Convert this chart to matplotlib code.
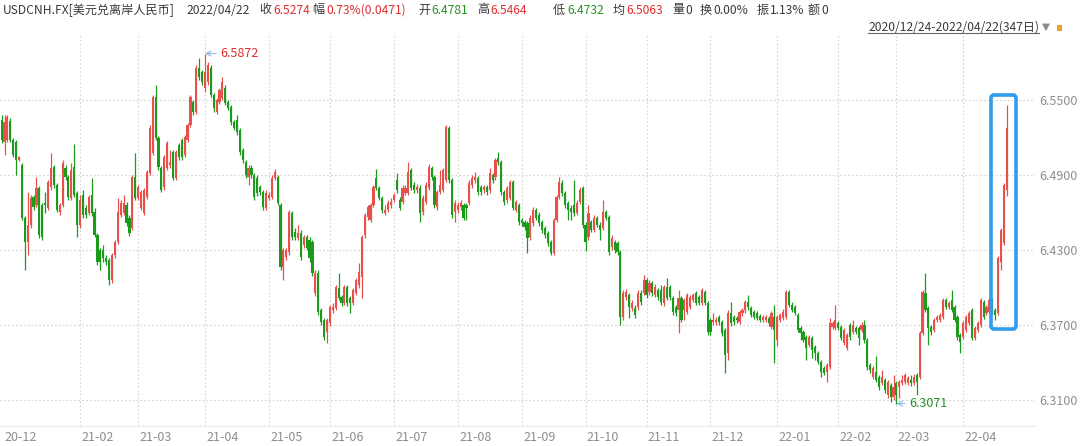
import matplotlib
matplotlib.use('Agg')
import matplotlib.pyplot as plt
import numpy as np
import pandas as pd
from matplotlib.patches import FancyBboxPatch, Rectangle
from matplotlib.transforms import IdentityTransform
from matplotlib.lines import Line2D

plt.rcParams['font.family'] = ['Noto Sans CJK SC', 'DejaVu Sans']

# ---------------- data ----------------
dates = pd.bdate_range('2020-12-24', '2022-04-22')   # 347 trading days

opens = [
6.534, 6.5164, 6.518, 6.5332, 6.518, 6.5164, 6.502, 6.498, 6.4556, 6.4364,
6.45, 6.4724, 6.466, 6.4796, 6.466, 6.4676, 6.4636, 6.4804, 6.4964, 6.482,
6.4604, 6.466, 6.4956, 6.4884, 6.4716, 6.4964, 6.4756, 6.45, 6.474, 6.4636,
6.4596, 6.474, 6.4604, 6.442, 6.43, 6.43, 6.4236, 6.422, 6.406, 6.426,
6.4364, 6.458, 6.4596, 6.466, 6.4556, 6.4476, 6.4884, 6.4716, 6.4636, 6.4596,
6.4724, 6.4916, 6.5076, 6.5524, 6.5196, 6.4956, 6.4804, 6.4956, 6.498, 6.5084,
6.4876, 6.514, 6.518, 6.506, 6.518, 6.53, 6.5484, 6.5404, 6.5756, 6.5724,
6.5596, 6.5644, 6.5756, 6.554, 6.5404, 6.5484, 6.5516, 6.5596, 6.5484, 6.5444,
6.5324, 6.534, 6.526, 6.51, 6.5004, 6.4884, 6.4956, 6.49, 6.4876, 6.4804,
6.4764, 6.4636, 6.4716, 6.4724, 6.4876, 6.4884, 6.466, 6.4164, 6.4244, 6.4284,
6.4596, 6.4444, 6.4396, 6.4436, 6.434, 6.4404, 6.438, 6.4364, 6.3956, 6.4116,
6.382, 6.374, 6.3644, 6.3716, 6.382, 6.3836, 6.3996, 6.3924, 6.3876, 6.4004,
6.3916, 6.3876, 6.3956, 6.402, 6.4084, 6.442, 6.4564, 6.454, 6.466, 6.4876,
6.4796, 6.4716, 6.4596, 6.462, 6.466, 6.47, 6.486, 6.47, 6.4684, 6.4756,
6.4756, 6.494, 6.482, 6.478, 6.4796, 6.4604, 6.4684, 6.4796, 6.4956, 6.4884,
6.4644, 6.4764, 6.478, 6.486, 6.5276, 6.486, 6.4604, 6.462, 6.4644, 6.466,
6.466, 6.4676, 6.482, 6.486, 6.4876, 6.4804, 6.478, 6.4804, 6.478, 6.49,
6.4884, 6.5036, 6.5004, 6.4764, 6.47, 6.4716, 6.4844, 6.462, 6.466, 6.454,
6.4524, 6.4516, 6.4404, 6.4516, 6.462, 6.458, 6.4524, 6.4476, 6.4436, 6.4364,
6.4276, 6.454, 6.4724, 6.4836, 6.4756, 6.4676, 6.4636, 6.466, 6.4596, 6.4684,
6.4796, 6.45, 6.4404, 6.4524, 6.446, 6.4556, 6.45, 6.4476, 6.4604, 6.4564,
6.4324, 6.4364, 6.4356, 6.4284, 6.3764, 6.3924, 6.394, 6.3836, 6.3836, 6.3844,
6.3956, 6.3956, 6.406, 6.3964, 6.4036, 6.394, 6.398, 6.398, 6.3876, 6.4004,
6.4004, 6.3916, 6.3844, 6.382, 6.3916, 6.382, 6.3804, 6.3844, 6.39, 6.3956,
6.3924, 6.3876, 6.3964, 6.3876, 6.374, 6.3724, 6.3724, 6.3764, 6.3724, 6.366,
6.3476, 6.3796, 6.3764, 6.3756, 6.3724, 6.3796, 6.382, 6.3884, 6.3836, 6.3804,
6.3796, 6.3772, 6.374, 6.374, 6.3756, 6.3684, 6.3764, 6.358, 6.374, 6.3756,
6.3764, 6.3964, 6.386, 6.3844, 6.378, 6.3676, 6.3644, 6.3604, 6.354, 6.3596,
6.3524, 6.3476, 6.3404, 6.3356, 6.3324, 6.3364, 6.3684, 6.3676, 6.3716, 6.3684,
6.3556, 6.3516, 6.37, 6.3644, 6.3676, 6.3676, 6.366, 6.37, 6.358, 6.338,
6.3284, 6.3324, 6.3284, 6.3236, 6.326, 6.314, 6.322, 6.3124, 6.3236, 6.3204,
6.3236, 6.3244, 6.3236, 6.326, 6.3236, 6.33, 6.3284, 6.3636, 6.3956, 6.3836,
6.3684, 6.366, 6.374, 6.374, 6.3764, 6.39, 6.3844, 6.39, 6.3844, 6.3764,
6.362, 6.3604, 6.366, 6.3716, 6.382, 6.3596, 6.366, 6.37, 6.3884, 6.3796,
6.3804, 6.39, 6.382, 6.3796, 6.4204, 6.4356, 6.4781]

highs = [
6.538, 6.538, 6.538, 6.5356, 6.5196, 6.518, 6.5052, 6.4996, 6.4572, 6.4764,
6.474, 6.474, 6.4884, 6.4812, 6.4676, 6.4764, 6.486, 6.5076, 6.498, 6.4836,
6.4676, 6.502, 6.498, 6.49, 6.4996, 6.5148, 6.4772, 6.474, 6.478, 6.466,
6.474, 6.4876, 6.4636, 6.4436, 6.4316, 6.434, 6.426, 6.4236, 6.4276, 6.438,
6.4716, 6.47, 6.474, 6.4684, 6.458, 6.49, 6.5076, 6.482, 6.478, 6.4796,
6.494, 6.53, 6.554, 6.562, 6.5212, 6.4972, 6.506, 6.5172, 6.51, 6.51,
6.51, 6.5156, 6.5196, 6.522, 6.5316, 6.554, 6.55, 6.578, 6.5836, 6.574,
6.5872, 6.5804, 6.578, 6.5556, 6.5516, 6.5596, 6.5684, 6.562, 6.55, 6.546,
6.534, 6.538, 6.5276, 6.5116, 6.502, 6.498, 6.498, 6.4916, 6.49, 6.482,
6.478, 6.478, 6.4764, 6.49, 6.4948, 6.49, 6.4676, 6.4316, 6.4316, 6.462,
6.4612, 6.4476, 6.45, 6.446, 6.442, 6.442, 6.4404, 6.438, 6.414, 6.414,
6.3836, 6.3756, 6.3756, 6.386, 6.3876, 6.402, 6.4116, 6.394, 6.402, 6.402,
6.3932, 6.3996, 6.4076, 6.4196, 6.442, 6.4596, 6.466, 6.4676, 6.482, 6.4948,
6.4812, 6.4732, 6.466, 6.47, 6.4716, 6.4756, 6.4916, 6.4724, 6.482, 6.482,
6.5004, 6.4956, 6.4844, 6.4828, 6.482, 6.474, 6.4844, 6.4988, 6.4972, 6.49,
6.478, 6.494, 6.4956, 6.53, 6.5292, 6.4876, 6.47, 6.4684, 6.47, 6.4676,
6.4676, 6.486, 6.49, 6.4924, 6.4892, 6.482, 6.482, 6.482, 6.4956, 6.4916,
6.5036, 6.5084, 6.502, 6.478, 6.4812, 6.486, 6.486, 6.47, 6.4676, 6.4556,
6.454, 6.4532, 6.458, 6.4644, 6.4636, 6.4604, 6.454, 6.4492, 6.4452, 6.438,
6.4556, 6.474, 6.4884, 6.486, 6.4772, 6.4692, 6.466, 6.486, 6.47, 6.4804,
6.4812, 6.4524, 6.466, 6.454, 6.458, 6.4572, 6.4524, 6.47, 6.462, 6.458,
6.442, 6.438, 6.4372, 6.43, 6.398, 6.3988, 6.3956, 6.39, 6.386, 6.398,
6.398, 6.41, 6.4076, 6.406, 6.4052, 6.4028, 6.3996, 6.402, 6.402, 6.4076,
6.402, 6.3932, 6.386, 6.398, 6.3932, 6.3916, 6.3956, 6.394, 6.3956, 6.3972,
6.394, 6.3996, 6.398, 6.3892, 6.3756, 6.3796, 6.3764, 6.378, 6.374, 6.3676,
6.382, 6.3884, 6.378, 6.3772, 6.382, 6.3836, 6.39, 6.394, 6.3852, 6.382,
6.3812, 6.3788, 6.378, 6.378, 6.3772, 6.3812, 6.386, 6.378, 6.3796, 6.3828,
6.398, 6.398, 6.3884, 6.386, 6.3796, 6.3692, 6.366, 6.362, 6.362, 6.3612,
6.354, 6.3492, 6.342, 6.3372, 6.3396, 6.3756, 6.3732, 6.386, 6.3732, 6.37,
6.3676, 6.3636, 6.3716, 6.374, 6.3692, 6.3692, 6.3724, 6.374, 6.3596, 6.3396,
6.3372, 6.3452, 6.33, 6.334, 6.3276, 6.326, 6.3236, 6.33, 6.3252, 6.326,
6.33, 6.3316, 6.3292, 6.33, 6.3308, 6.3316, 6.3652, 6.398, 6.4116, 6.3852,
6.37, 6.3756, 6.378, 6.3796, 6.3916, 6.3916, 6.3892, 6.398, 6.386, 6.378,
6.3636, 6.3732, 6.378, 6.3812, 6.3836, 6.3692, 6.3732, 6.3916, 6.39, 6.386,
6.3916, 6.3916, 6.3836, 6.4252, 6.4476, 6.4836, 6.5464]

lows = [
6.5156, 6.506, 6.5164, 6.5164, 6.5044, 6.49, 6.5012, 6.454, 6.414, 6.426,
6.4476, 6.462, 6.4644, 6.4396, 6.438, 6.4596, 6.462, 6.478, 6.4796, 6.4604,
6.458, 6.4644, 6.486, 6.47, 6.47, 6.4724, 6.4404, 6.4476, 6.4556, 6.4556,
6.458, 6.4572, 6.4404, 6.418, 6.414, 6.4204, 6.418, 6.402, 6.4036, 6.4236,
6.4348, 6.4564, 6.458, 6.4492, 6.4412, 6.446, 6.47, 6.47, 6.462, 6.458,
6.4708, 6.49, 6.506, 6.518, 6.494, 6.4764, 6.478, 6.494, 6.4956, 6.486,
6.486, 6.502, 6.502, 6.5044, 6.5164, 6.5284, 6.538, 6.5388, 6.566, 6.562,
6.5564, 6.562, 6.5524, 6.5404, 6.5388, 6.5468, 6.55, 6.546, 6.542, 6.53,
6.526, 6.522, 6.506, 6.4996, 6.4876, 6.482, 6.4876, 6.47, 6.4732, 6.474,
6.462, 6.462, 6.47, 6.4708, 6.486, 6.466, 6.414, 6.406, 6.422, 6.426,
6.438, 6.438, 6.438, 6.422, 6.4316, 6.43, 6.4204, 6.4092, 6.3932, 6.378,
6.37, 6.358, 6.3556, 6.3692, 6.3796, 6.382, 6.39, 6.3852, 6.386, 6.3852,
6.3796, 6.386, 6.394, 6.3996, 6.3916, 6.4396, 6.454, 6.4524, 6.4644, 6.478,
6.47, 6.4596, 6.458, 6.4604, 6.4636, 6.4684, 6.4756, 6.462, 6.4668, 6.474,
6.474, 6.478, 6.4756, 6.4756, 6.4524, 6.458, 6.4668, 6.478, 6.486, 6.4636,
6.462, 6.4748, 6.4764, 6.4844, 6.4836, 6.4556, 6.4524, 6.4596, 6.462, 6.454,
6.454, 6.466, 6.4796, 6.4836, 6.474, 6.474, 6.4756, 6.474, 6.4756, 6.4836,
6.486, 6.498, 6.474, 6.466, 6.4676, 6.47, 6.462, 6.4604, 6.45, 6.4492,
6.446, 6.4276, 6.438, 6.4492, 6.454, 6.4492, 6.4436, 6.4396, 6.4332, 6.426,
6.426, 6.4524, 6.4708, 6.4732, 6.4636, 6.454, 6.454, 6.4572, 6.458, 6.4668,
6.4476, 6.4292, 6.438, 6.4444, 6.4444, 6.4484, 6.438, 6.446, 6.454, 6.426,
6.43, 6.4276, 6.426, 6.37, 6.374, 6.39, 6.3756, 6.3812, 6.3756, 6.382,
6.386, 6.394, 6.3916, 6.394, 6.3932, 6.3924, 6.39, 6.386, 6.3852, 6.39,
6.39, 6.378, 6.3772, 6.3636, 6.3724, 6.374, 6.3788, 6.3828, 6.3884, 6.386,
6.386, 6.386, 6.386, 6.362, 6.362, 6.37, 6.37, 6.37, 6.3612, 6.3316,
6.342, 6.3692, 6.37, 6.3716, 6.3708, 6.3772, 6.3796, 6.382, 6.3764, 6.3748,
6.374, 6.3724, 6.3724, 6.3724, 6.3692, 6.3668, 6.3396, 6.3532, 6.3724, 6.374,
6.3748, 6.3844, 6.3804, 6.378, 6.3644, 6.358, 6.3564, 6.342, 6.3524, 6.3436,
6.342, 6.3388, 6.3284, 6.33, 6.3244, 6.3348, 6.3668, 6.366, 6.366, 6.358,
6.354, 6.35, 6.358, 6.3628, 6.3628, 6.354, 6.3644, 6.3556, 6.334, 6.3316,
6.3268, 6.3244, 6.318, 6.322, 6.3156, 6.3116, 6.3084, 6.31, 6.3071, 6.3116,
6.322, 6.3228, 6.322, 6.3212, 6.322, 6.314, 6.3268, 6.362, 6.3804, 6.354,
6.362, 6.3644, 6.3724, 6.3724, 6.3748, 6.3828, 6.3828, 6.3804, 6.3724, 6.358,
6.3476, 6.3588, 6.3644, 6.37, 6.358, 6.358, 6.3644, 6.3684, 6.3748, 6.378,
6.3788, 6.3788, 6.374, 6.378, 6.414, 6.434, 6.4732]

closes = [
6.518, 6.5324, 6.5364, 6.518, 6.506, 6.502, 6.5044, 6.4556, 6.4364, 6.45,
6.4716, 6.4644, 6.4796, 6.442, 6.4404, 6.466, 6.4844, 6.4956, 6.482, 6.462,
6.466, 6.4996, 6.4884, 6.4724, 6.494, 6.474, 6.45, 6.47, 6.458, 6.458,
6.4724, 6.4596, 6.442, 6.4204, 6.4204, 6.4236, 6.4204, 6.406, 6.426, 6.4364,
6.4604, 6.4676, 6.4676, 6.4516, 6.4436, 6.4884, 6.4716, 6.4804, 6.4764, 6.478,
6.4924, 6.5276, 6.5524, 6.5196, 6.4964, 6.478, 6.5044, 6.5156, 6.5004, 6.4876,
6.5084, 6.5044, 6.5044, 6.5204, 6.53, 6.5524, 6.5404, 6.5756, 6.5684, 6.5644,
6.5724, 6.578, 6.554, 6.5436, 6.55, 6.558, 6.5644, 6.5476, 6.5436, 6.5324,
6.5276, 6.5244, 6.5084, 6.502, 6.49, 6.4956, 6.49, 6.4724, 6.4756, 6.4764,
6.4644, 6.4756, 6.474, 6.4876, 6.4924, 6.4676, 6.4164, 6.43, 6.43, 6.4604,
6.4404, 6.4404, 6.4436, 6.4244, 6.4404, 6.4316, 6.4236, 6.4116, 6.4116, 6.3804,
6.3724, 6.3604, 6.374, 6.3844, 6.3844, 6.4004, 6.3916, 6.3876, 6.4004, 6.3876,
6.3876, 6.398, 6.406, 6.4124, 6.4404, 6.458, 6.4644, 6.466, 6.4804, 6.4796,
6.4716, 6.462, 6.462, 6.4676, 6.4684, 6.474, 6.478, 6.4636, 6.4796, 6.4796,
6.4924, 6.4796, 6.478, 6.4804, 6.4596, 6.4716, 6.482, 6.4964, 6.4884, 6.466,
6.4764, 6.482, 6.494, 6.5284, 6.486, 6.458, 6.4676, 6.466, 6.4676, 6.4556,
6.4636, 6.4836, 6.4876, 6.4884, 6.4764, 6.4764, 6.4804, 6.4764, 6.4916, 6.486,
6.502, 6.5004, 6.4764, 6.4684, 6.4796, 6.4844, 6.4636, 6.4684, 6.4524, 6.4516,
6.4484, 6.4396, 6.4556, 6.462, 6.4556, 6.4516, 6.446, 6.442, 6.4356, 6.4276,
6.454, 6.4724, 6.4844, 6.4756, 6.466, 6.462, 6.4604, 6.4596, 6.4676, 6.478,
6.45, 6.4364, 6.4596, 6.446, 6.4556, 6.45, 6.446, 6.4604, 6.4556, 6.4284,
6.4396, 6.43, 6.4284, 6.3764, 6.3956, 6.3964, 6.3844, 6.3876, 6.378, 6.3956,
6.3884, 6.406, 6.394, 6.4036, 6.3956, 6.4004, 6.3924, 6.3884, 6.4004, 6.3916,
6.3924, 6.3804, 6.3796, 6.3916, 6.374, 6.39, 6.394, 6.3924, 6.394, 6.3876,
6.3876, 6.398, 6.3876, 6.3644, 6.3644, 6.374, 6.374, 6.3724, 6.3636, 6.346,
6.3796, 6.3716, 6.3724, 6.374, 6.3804, 6.382, 6.3884, 6.3844, 6.378, 6.3764,
6.3756, 6.374, 6.3764, 6.3764, 6.3716, 6.3796, 6.366, 6.3764, 6.378, 6.3804,
6.3964, 6.386, 6.382, 6.3796, 6.366, 6.3636, 6.358, 6.3516, 6.3604, 6.35,
6.3476, 6.3404, 6.3324, 6.3316, 6.338, 6.3716, 6.3716, 6.374, 6.3676, 6.3596,
6.366, 6.362, 6.3604, 6.37, 6.3644, 6.3596, 6.37, 6.358, 6.3364, 6.334,
6.3356, 6.326, 6.3204, 6.3284, 6.318, 6.3244, 6.3124, 6.3204, 6.314, 6.3244,
6.326, 6.33, 6.3276, 6.3236, 6.3284, 6.3244, 6.3636, 6.3964, 6.382, 6.3676,
6.3644, 6.374, 6.3764, 6.378, 6.39, 6.3844, 6.3876, 6.382, 6.374, 6.3604,
6.3564, 6.3716, 6.3764, 6.3796, 6.3596, 6.3676, 6.3716, 6.39, 6.3764, 6.3844,
6.39, 6.3804, 6.378, 6.4236, 6.446, 6.482, 6.5274]

month_labels = ['20-12', '21-02', '21-03', '21-04', '21-05', '21-06', '21-07', '21-08',
                '21-09', '21-10', '21-11', '21-12', '22-01', '22-02', '22-03', '22-04']
y_ticks = [6.31, 6.37, 6.43, 6.49, 6.55]

header_items = [  # (label, value, value colour key)
    ('收', '6.5274', 'up'), ('幅', '0.73%(0.0471)', 'up'), ('开', '6.4781', 'down'),
    ('高', '6.5464', 'up'), ('低', '6.4732', 'down'), ('均', '6.5063', 'up'),
    ('量', '0', None), ('换', '0.00%', None), ('振', '1.13%', None), ('额', '0', None)]

# ---------------- style ----------------
RED = '#e8504c'
GREEN = '#1b9a1b'
TXT_RED = '#dd2f2f'
TXT_GREEN = '#259125'
GRID = '#d4d4d4'
LABEL = '#8e8e8e'
DARK = '#3a3a3a'
HFS = 8.7
W, H = 1080, 446

fig = plt.figure(figsize=(W / 100, H / 100), dpi=100)
ax = fig.add_axes([0, 20 / H, 1035 / W, 393 / H])

o = np.array(opens); h = np.array(highs); l = np.array(lows); c = np.array(closes)
x = np.arange(len(c))
up = c >= o
cols = np.where(up, RED, GREEN)

ax.vlines(x, l, h, colors=cols, linewidth=0.9, zorder=3)
body_bottom = np.minimum(o, c)
body_h = np.maximum(np.abs(c - o), 0.0006)
ax.bar(x, body_h, bottom=body_bottom, width=0.74, color=cols, linewidth=0, zorder=4)

ax.set_xlim(-0.55, 355.7)
ax.set_ylim(6.2892, 6.6036)

# month ticks
ym = dates.strftime('%y-%m')
tick_pos = [int(np.argmax(ym == lab)) for lab in month_labels]
for p in tick_pos[1:]:
    ax.axvline(p, color=GRID, linestyle=(0, (1.5, 2)), linewidth=0.8, zorder=1)
for yv in y_ticks:
    ax.axhline(yv, color=GRID, linestyle=(0, (1.5, 2)), linewidth=0.8, zorder=1)

ax.set_xticks([])
for p, lab in zip(tick_pos, month_labels):
    ax.annotate(lab, xy=(p, 0), xycoords=('data', 'axes fraction'), xytext=(1 if p else 2, -8.5),
                textcoords='offset points', ha='left', va='center', fontsize=9, color=LABEL)

ax.yaxis.tick_right()
ax.set_yticks(y_ticks)
ax.set_yticklabels([f'{v:.4f}' for v in y_ticks])
ax.tick_params(axis='y', length=0, pad=3, labelsize=9, labelcolor=LABEL)
for s in ['top', 'left', 'right']:
    ax.spines[s].set_visible(False)
ax.spines['bottom'].set_color('#ececec')
ax.spines['bottom'].set_linewidth(0.8)

# max/min annotations
imax = int(np.argmax(h)); imin = int(np.argmin(l))
ax.annotate(f'{h[imax]:.4f}', xy=(imax, h[imax]), xytext=(11, 0), textcoords='offset points',
            ha='left', va='center', fontsize=9, color=TXT_RED,
            arrowprops=dict(arrowstyle='->', color='#8fb9e3', lw=0.8, shrinkA=1, shrinkB=0))
ax.annotate(f'{l[imin]:.4f}', xy=(imin, l[imin]), xytext=(9, 0), textcoords='offset points',
            ha='left', va='center', fontsize=9, color=TXT_GREEN,
            arrowprops=dict(arrowstyle='->', color='#8fb9e3', lw=0.8, shrinkA=1, shrinkB=0))

# blue highlight box (pixel coordinates)
box = FancyBboxPatch((991, H - 329), 25, 234, boxstyle='round,pad=0,rounding_size=3',
                     linewidth=2.6, edgecolor='#2e9cf0', facecolor='none',
                     transform=IdentityTransform(), zorder=10)
fig.add_artist(box)

# header line
def fx(px):
    return px / W

def fy(py):
    return 1 - py / H

fig.text(fx(3), fy(10), 'USDCNH.FX[美元兑离岸人民币]', fontsize=HFS, color=DARK, va='center', ha='left')
fig.text(fx(186), fy(10), '2022/04/22', fontsize=HFS, color=DARK, va='center', ha='left')
label_x = [259, 312, 418, 477, 553, 613, 672, 700, 757, 808]
value_x = [273, 326, 431, 490, 567, 626, 685, 713, 770, 821]
for px, vx, (lab, val, kind) in zip(label_x, value_x, header_items):
    fig.text(fx(px), fy(10), lab, fontsize=HFS, color=DARK, va='center', ha='left')
    colr = TXT_RED if kind == 'up' else (TXT_GREEN if kind == 'down' else DARK)
    fig.text(fx(vx), fy(10), val, fontsize=HFS, color=colr, va='center', ha='left')

rng = fig.text(fx(1039), fy(27), '2020/12/24-2022/04/22(347日)', fontsize=HFS, color=DARK,
               va='center', ha='right')
fig.canvas.draw()
bb = rng.get_window_extent()
fig.add_artist(Line2D([bb.x0, bb.x1], [bb.y0 + 1, bb.y0 + 1], color='#666666', linewidth=0.8,
                      transform=IdentityTransform()))
fig.text(fx(1042), fy(27), '▼', fontsize=7.5, color='#8a8a8a', va='center', ha='left',
         family=['DejaVu Sans'])
fig.add_artist(Rectangle((1057, H - 31), 5, 6, facecolor='#f0a020', edgecolor='none',
                         transform=IdentityTransform()))

fig.savefig('out.png', dpi=100)
